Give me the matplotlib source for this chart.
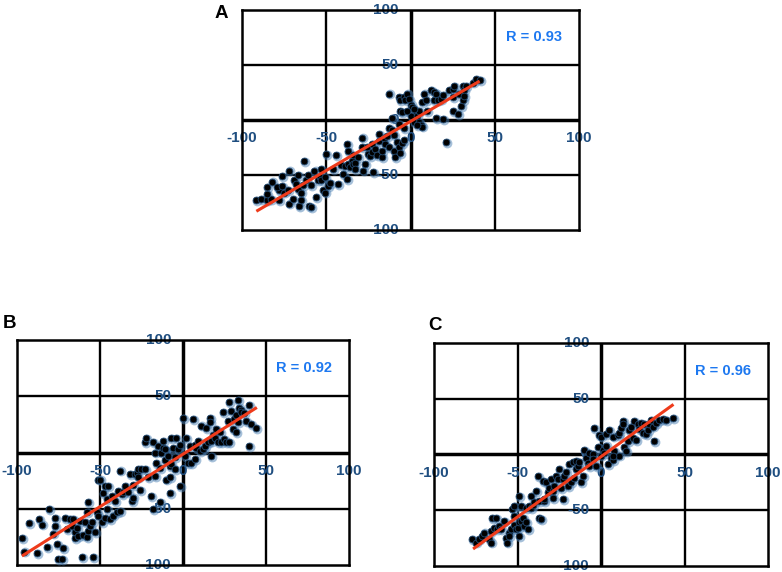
import numpy as np
import matplotlib
matplotlib.use('Agg')
import matplotlib.pyplot as plt

plt.rcParams['font.family'] = ['Liberation Sans', 'DejaVu Sans']

# Panel A scatter values
a_x = [-92, -89, -85, -83, -85, -85, -82, -78, -78, -79, -76, -76, -75, -73, -72, -72, -70,
       -69, -67, -68, -67, -66, -65, -65, -64, -63, -62, -61, -60, -59, -59, -57, -56, -55,
       -54, -53, -53, -52, -51, -51, -50, -49, -48, -44, -43, -46, -41, -40, -39, -38, -38,
       -37, -37, -36, -35, -34, -34, -33, -33, -31, -29, -29, -28, -27, -26, -25, -24, -23,
       -22, -23, -21, -20, -19, -19, -17, -17, -16, -15, -14, -13, -13, -11, -11, -10, -9,
       -8, -7, -7, -6, -5, -4, -13, -7, -6, -6, -5, -4, -3, -2, -1, 0, 1, 0, 2, 3, 4, 5, 6,
       7, 5, 7, 8, 9, 10, 12, 14, 14, 15, 15, 16, 18, 19, 19, 21, 23, 25, 25, 25, 26, 28, 29,
       30, 31, 31, 32, 32, 33, 37, 39, 41, -4, -10, -2, 2, 4]
a_y = [-73, -72, -73, -72, -67, -61, -56, -64, -73, -61, -60, -51, -66, -64, -46, -76, -72,
       -55, -50, -58, -63, -78, -73, -66, -59, -37, -55, -50, -78, -79, -59, -46, -70, -55,
       -52, -55, -45, -64, -66, -52, -31, -60, -57, -32, -58, -45, -41, -49, -42, -54, -22,
       -28, -40, -43, -37, -32, -40, -39, -45, -34, -16, -25, -46, -40, -25, -31, -33, -22,
       -47, -29, -26, -32, -13, -19, -34, -28, -16, -22, -15, -25, -7, 2, -9, -28, -34,
       -20, -4, -25, -30, -21, -18, 24, 21, 18, 8, 7, 21, 18, 24, 19, 14, 12, 4, -2, 8, 4, -2,
       -5, -6, 8, 16, 24, 18, 8, 27, 25, 18, 24, 2, 18, 19, 23, 1, -20, 27, 28, 21, 8, 31, 5,
       24, 13, 18, 31, 27, 22, 31, 34, 37, 36, -7, -14, 8, 10, -5]

# Panel B scatter values
b_x = [-97, -96, -93, -88, -87, -85, -82, -81, -78, -77, -77, -76, -75, -73, -72, -71, -70,
       -68, -67, -66, -65, -65, -64, -63, -62, -61, -60, -59, -58, -58, -57, -57, -56, -55,
       -54, -53, -52, -51, -50, -51, -49, -48, -47, -47, -46, -46, -45, -44, -43, -42, -41,
       -40, -39, -38, -38, -37, -36, -35, -33, -32, -31, -30, -30, -29, -28, -27, -27, -26,
       -25, -23, -23, -22, -21, -19, -18, -18, -17, -17, -16, -15, -14, -14, -13, -12, -12,
       -11, -11, -10, -8, -9, -8, -8, -7, -7, -6, -5, -5, -4, -3, -2, -2, 0, 1, 2, 3, 4, 5,
       6, 7, 7, 8, 9, 10, 11, 12, 13, 14, 15, 16, 16, 17, 17, 18, 19, 20, 21, 22, 23, 24, 25,
       26, 27, 28, 28, 29, 30, 31, 32, 32, 33, 33, 34, 35, 35, 37, 38, 40, 40, 41, 44]
b_y = [-76, -88, -63, -89, -59, -64, -84, -50, -72, -65, -58, -81, -95, -95, -85, -58, -68,
       -59, -65, -59, -76, -71, -67, -74, -61, -93, -73, -62, -53, -75, -70, -44, -65, -62,
       -93, -71, -53, -24, -24, -56, -62, -36, -58, -30, -50, -41, -30, -59, -39, -56, -43,
       -53, -34, -52, -16, -37, -35, -30, -35, -19, -43, -40, -29, -19, -18, -22, -15, -33,
       -15, -15, 9, 13, -22, -39, -50, 9, 0, -21, -9, 6, -44, -14, 0, 4, 10, -7, 3, -24, -22,
       -3, -12, -36, -10, 13, 4, -4, -15, 13, 3, -30, 7, 31, -3, 13, -9, 6, -9, 30, -6, 7, 4,
       10, 1, 24, 3, 6, 22, 9, 31, 27, -3, 10, 16, 13, 21, 9, 18, 9, 36, 12, 9, 28, 9, 45, 37,
       21, 30, 33, 18, 47, 27, 40, 38, 36, 35, 28, 6, 42, 25, 22]

# Panel C scatter values
c_x = [-77, -75, -73, -71, -70, -67, -66, -66, -65, -64, -63, -62, -61, -60, -58, -57, -56,
       -55, -55, -54, -53, -52, -52, -52, -51, -50, -49, -49, -49, -48, -48, -47, -46, -45,
       -45, -44, -43, -42, -42, -41, -40, -39, -38, -37, -37, -36, -35, -34, -34, -33, -32,
       -31, -30, -29, -29, -28, -27, -26, -25, -24, -23, -23, -22, -21, -20, -19, -18, -17,
       -16, -15, -15, -14, -13, -12, -11, -10, -9, -8, -7, -7, -5, -5, -4, -3, -2, -1, 0, 0,
       1, 2, 3, 3, 4, 5, 6, 7, 7, 8, 10, 11, 11, 12, 13, 14, 15, 16, 17, 18, 19, 20, 21, 22,
       23, 24, 25, 26, 27, 28, 29, 30, 31, 32, 33, 35, 37, 39, 43, 13, 7]
c_y = [-76, -79, -76, -73, -70, -76, -79, -69, -57, -66, -57, -67, -64, -67, -60, -75, -79,
       -70, -73, -67, -49, -55, -46, -63, -67, -66, -61, -37, -73, -46, -60, -57, -64, -48,
       -61, -67, -46, -37, -48, -45, -43, -33, -19, -57, -42, -58, -24, -42, -40, -25, -34,
       -30, -22, -39, -33, -28, -19, -22, -13, -30, -40, -22, -19, -16, -28, -9, -25, -7,
       -21, -6, -13, -10, -7, -25, -19, 4, -3, -8, -10, 1, 0, -4, 24, -10, 7, 17, -1, 16,
       4, 1, 18, 8, -9, 22, -3, -5, 16, 3, 17, 19, -1, 24, 30, 7, 3, 12, 22, 25, 15, 30, 13,
       27, 23, 28, 19, 27, 18, 22, 27, 31, 25, 12, 28, 31, 32, 31, 33, 27, -1]

# fitted lines: slope, intercept, x start, x end
a_fit = [0.893, -1.3, -91.5, 41]
b_fit = [0.933, -1.5, -97, 44.5]
c_fit = [1.08, -2.0, -76.6, 43.4]

r_labels = ['R = 0.93', 'R = 0.92', 'R = 0.96']
panel_letters = ['A', 'B', 'C']
tick_values = [-100, -50, 0, 50, 100]

LABEL_BLUE = '#1f4e80'
R_BLUE = '#1d78f0'


def draw_panel(ax, xs, ys, fit, r_text):
    ax.set_xlim(-100, 100)
    ax.set_ylim(-100, 100)
    ax.set_xticks([])
    ax.set_yticks([])
    for sp in ax.spines.values():
        sp.set_linewidth(1.8)
        sp.set_color('black')
    # grid lines
    for v in [-50, 50]:
        ax.axvline(v, color='black', lw=1.7, zorder=1)
        ax.axhline(v, color='black', lw=1.7, zorder=1)
    ax.axvline(0, color='black', lw=2.5, zorder=1)
    ax.axhline(0, color='black', lw=2.5, zorder=1)

    # axis number labels sitting on the zero lines
    for v in tick_values:
        ax.annotate(str(v), xy=(v, 0), xytext=(0, -13), textcoords='offset points',
                    ha='center', va='center', fontsize=11, fontweight='bold',
                    color=LABEL_BLUE, zorder=2, annotation_clip=False)
    for v in tick_values:
        ax.annotate(str(v), xy=(0, v), xytext=(-8.5, 0), textcoords='offset points',
                    ha='right', va='center', fontsize=11, fontweight='bold',
                    color=LABEL_BLUE, zorder=2, annotation_clip=False)

    # dots with a soft blue halo
    ax.scatter(np.array(xs) + 0.6, np.array(ys) - 0.8, s=50, color='#4f82b5',
               alpha=0.5, linewidths=0, zorder=3)
    ax.scatter(xs, ys, s=24, color='black', edgecolors='#23496f',
               linewidths=0.6, zorder=4)

    slope, icpt, x0, x1 = fit
    lx = np.array([x0, x1])
    ax.plot(lx, slope * lx + icpt, color='#ee3b1b', lw=2.2, zorder=5,
            solid_capstyle='butt')

    ax.text(73, 75, r_text, ha='center', va='center', fontsize=10.5,
            fontweight='bold', color=R_BLUE, zorder=6)


fig = plt.figure(figsize=(7.82, 5.72), dpi=100)
ax_a = fig.add_axes([0.3095, 0.598, 0.431, 0.3846])
ax_b = fig.add_axes([0.0217, 0.0122, 0.4246, 0.3934])
ax_c = fig.add_axes([0.555, 0.0105, 0.4271, 0.39])

draw_panel(ax_a, a_x, a_y, a_fit, r_labels[0])
draw_panel(ax_b, b_x, b_y, b_fit, r_labels[1])
draw_panel(ax_c, c_x, c_y, c_fit, r_labels[2])

fig.text(221 / 782, 1 - 14 / 572, panel_letters[0], ha='center', va='center',
         fontsize=13.5, fontweight='bold')
fig.text(10 / 782, 1 - 324 / 572, panel_letters[1], ha='center', va='center',
         fontsize=13.5, fontweight='bold')
fig.text(435 / 782, 1 - 326 / 572, panel_letters[2], ha='center', va='center',
         fontsize=13.5, fontweight='bold')

fig.savefig('out.png', dpi=100)
